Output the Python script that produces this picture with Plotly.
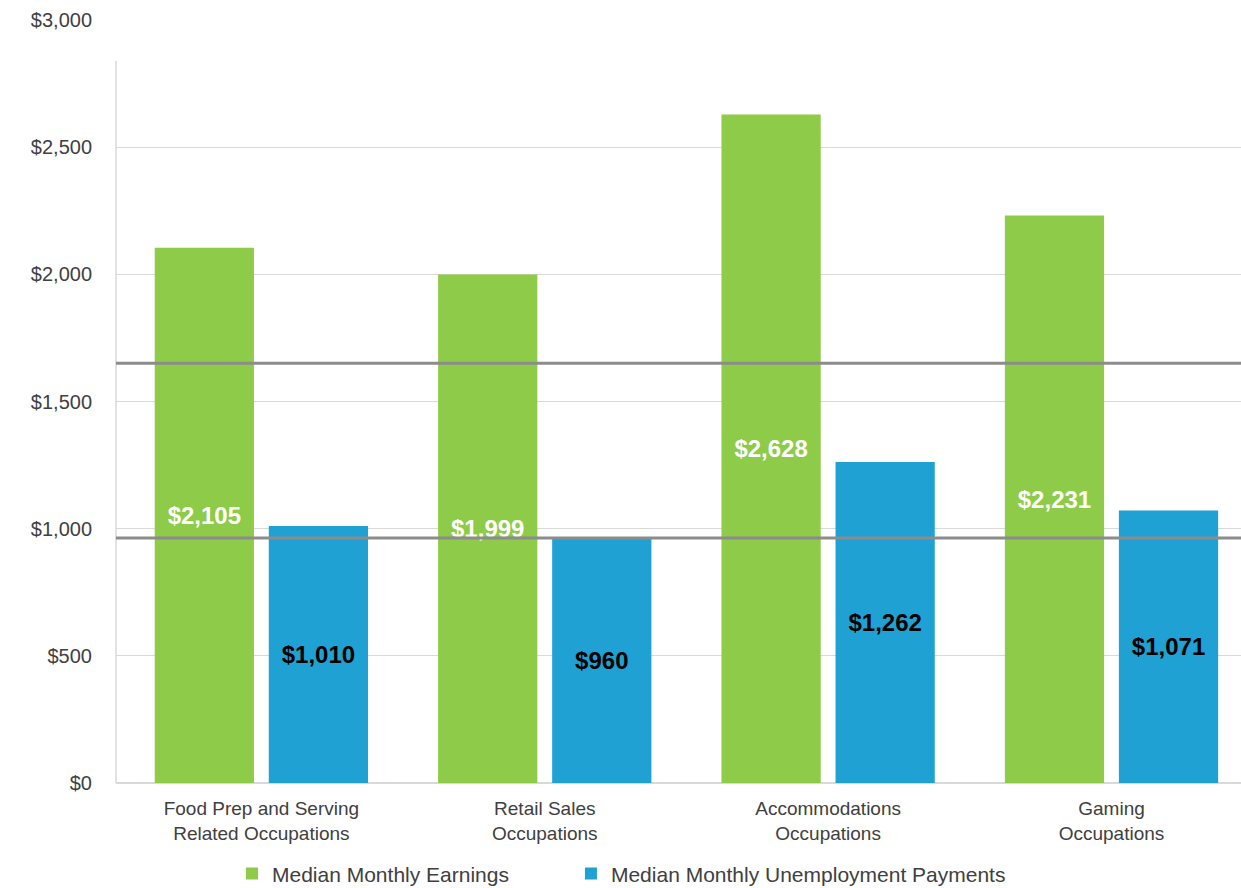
import plotly.graph_objects as go

categories = [
    "Food Prep and Serving<br>Related Occupations",
    "Retail Sales<br>Occupations",
    "Accommodations<br>Occupations",
    "Gaming<br>Occupations",
]
earnings = [2105, 1999, 2628, 2231]
unemployment = [1010, 960, 1262, 1071]
reference_lines = [1650, 963]
y_ticks = [0, 500, 1000, 1500, 2000, 2500, 3000]
y_tick_text = [f"${v:,}" for v in y_ticks]

GREEN = "#8dcb48"
BLUE = "#1fa1d4"
FONT = "Liberation Sans, Arial, sans-serif"
TEXT_GRAY = "#404040"

fig = go.Figure()
fig.add_trace(go.Bar(
    name="Median Monthly Earnings", legend="legend",
    x=categories, y=earnings, marker_color=GREEN, marker_line_width=0,
    text=[f"${v:,}" for v in earnings], textposition="inside",
    insidetextanchor="middle", textangle=0,
    insidetextfont=dict(family=FONT, size=24, color="white", weight="bold"),
))
fig.add_trace(go.Bar(
    name="Median Monthly Unemployment Payments", legend="legend2",
    x=categories, y=unemployment, marker_color=BLUE, marker_line_width=0,
    text=[f"${v:,}" for v in unemployment], textposition="inside",
    insidetextanchor="middle", textangle=0,
    insidetextfont=dict(family=FONT, size=24, color="black", weight="bold"),
))

shapes = [
    dict(type="line", xref="paper", yref="y", x0=0, x1=0, y0=0, y1=2840,
         line=dict(color="#d9d9d9", width=1.5), layer="below"),
]
for v in reference_lines:
    shapes.append(dict(type="line", xref="paper", yref="y", x0=0, x1=1,
                       y0=v, y1=v, line=dict(color="#8c8c8c", width=3),
                       layer="above"))

legend_common = dict(orientation="h", xanchor="left", y=-0.119,
                     yanchor="middle", bgcolor="rgba(0,0,0,0)",
                     font=dict(family=FONT, size=21, color=TEXT_GRAY),
                     itemwidth=30)

fig.update_layout(
    width=1241, height=888,
    margin=dict(l=116, r=0, t=20, b=105, autoexpand=False),
    paper_bgcolor="white", plot_bgcolor="white",
    barmode="group", bargap=0.195, bargroupgap=0.13,
    font=dict(family=FONT, color=TEXT_GRAY),
    shapes=shapes,
    legend=dict(x=0.1031, **legend_common),
    legend2=dict(x=0.4044, **legend_common),
    showlegend=True,
)
fig.update_xaxes(range=[-0.513, 3.457], showline=False, showgrid=False,
                 tickfont=dict(family=FONT, size=19, color=TEXT_GRAY),
                 ticks="", ticklabelstandoff=12)
fig.update_yaxes(range=[0, 3000], tickmode="array", tickvals=y_ticks,
                 ticktext=y_tick_text, showgrid=True, gridcolor="#d9d9d9",
                 gridwidth=1, zeroline=True, zerolinecolor="#d9d9d9",
                 zerolinewidth=1.5, showline=False, ticks="",
                 ticklabelstandoff=23,
                 tickfont=dict(family=FONT, size=20, color=TEXT_GRAY))

fig.write_html("out.html", config={"displayModeBar": False},
               post_script="document.body.style.margin='0px';")
